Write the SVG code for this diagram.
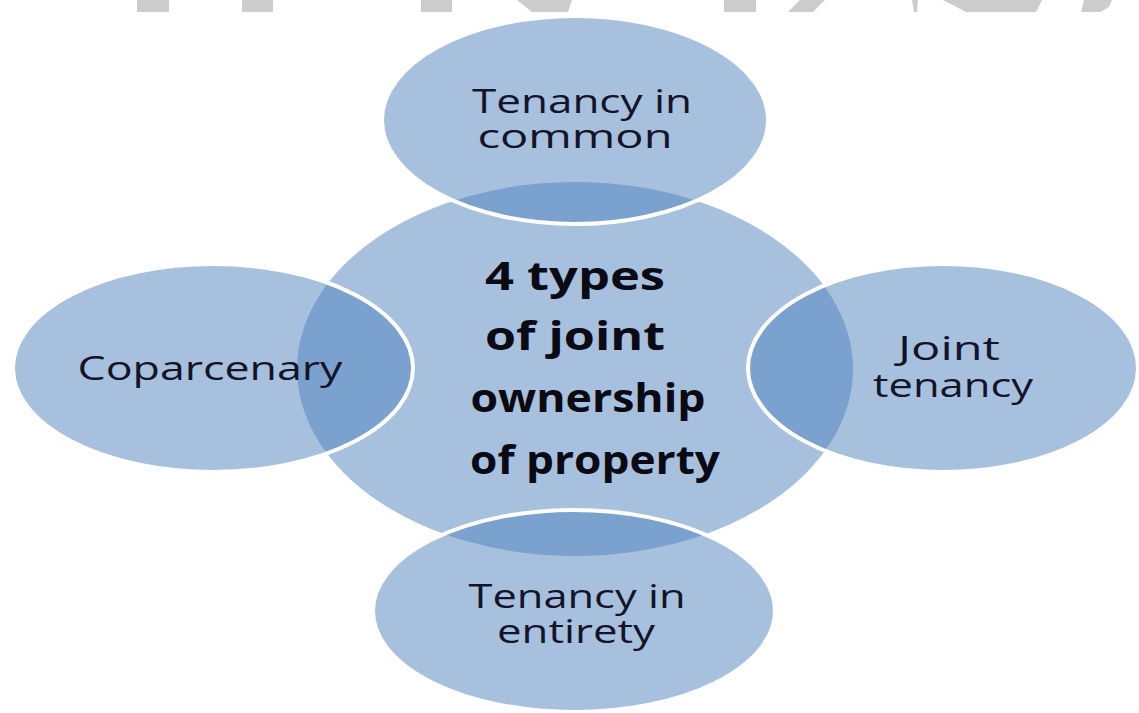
<svg xmlns="http://www.w3.org/2000/svg" width="1139" height="713" viewBox="0 0 1139 713">
  <style>
    .hub { fill: #4F81BD; fill-opacity: 0.5; }
    .sat { fill: #4F81BD; fill-opacity: 0.5; stroke: #FFFFFF; stroke-width: 4; }
    .lbl { font-family: "Open Sans", "Liberation Sans", sans-serif; font-size: 33px; fill: #141428; text-anchor: middle; }
    .hubtxt { font-family: "Open Sans", "Liberation Sans", sans-serif; font-size: 39px; font-weight: bold; fill: #0A0A14; text-anchor: middle; }
    .wm { fill: #CCCCCC; }
  </style>

  <rect width="1139" height="713" fill="#FFFFFF"/>

  <!-- grey band pieces along the top edge -->
  <g id="topband">
    <rect class="wm" x="137" y="0" width="32" height="12"/>
    <rect class="wm" x="242" y="0" width="31" height="12"/>
    <rect class="wm" x="421" y="0" width="31" height="12"/>
    <polygon class="wm" points="517,0 572,0 568,12 532,12"/>
    <rect class="wm" x="724" y="0" width="32" height="12"/>
    <polygon class="wm" points="800,0 825,0 813,12 788,12"/>
    <polygon class="wm" points="912,0 918,0 917,12 914,12"/>
    <polygon class="wm" points="943,0 1042,0 1036,12 966,12"/>
    <polygon class="wm" points="1084,0 1112,0 1109,7 1100,12 1081,12"/>
  </g>

  <!-- central hub -->
  <g id="hub">
    <ellipse class="hub" cx="575" cy="369" rx="278" ry="187"/>
    <text class="hubtxt" x="575" y="290" textLength="180" lengthAdjust="spacingAndGlyphs">4 types</text>
    <text class="hubtxt" x="575" y="350" textLength="180" lengthAdjust="spacingAndGlyphs">of joint</text>
    <text class="hubtxt" x="588" y="412" textLength="235" lengthAdjust="spacingAndGlyphs">ownership</text>
    <text class="hubtxt" x="595" y="474" textLength="250" lengthAdjust="spacingAndGlyphs">of property</text>
  </g>

  <!-- no connector lines: satellites overlap the hub directly -->
  <g id="connectors"></g>

  <g id="tenancy-in-common">
    <ellipse class="sat" cx="575" cy="120" rx="193" ry="104"/>
    <text class="lbl" x="582" y="113" textLength="220" lengthAdjust="spacingAndGlyphs">Tenancy in</text>
    <text class="lbl" x="575" y="148" textLength="195" lengthAdjust="spacingAndGlyphs">common</text>
  </g>

  <g id="joint-tenancy">
    <ellipse class="sat" cx="943" cy="368" rx="195" ry="104"/>
    <text class="lbl" x="949" y="360" textLength="102" lengthAdjust="spacingAndGlyphs">Joint</text>
    <text class="lbl" x="953" y="397" textLength="160" lengthAdjust="spacingAndGlyphs">tenancy</text>
  </g>

  <g id="tenancy-in-entirety">
    <ellipse class="sat" cx="574" cy="611" rx="201" ry="101"/>
    <text class="lbl" x="577" y="608" textLength="217" lengthAdjust="spacingAndGlyphs">Tenancy in</text>
    <text class="lbl" x="576" y="643" textLength="158" lengthAdjust="spacingAndGlyphs">entirety</text>
  </g>

  <g id="coparcenary">
    <ellipse class="sat" cx="213" cy="368" rx="200" ry="104"/>
    <text class="lbl" x="210" y="380" textLength="265" lengthAdjust="spacingAndGlyphs">Coparcenary</text>
  </g>
</svg>
